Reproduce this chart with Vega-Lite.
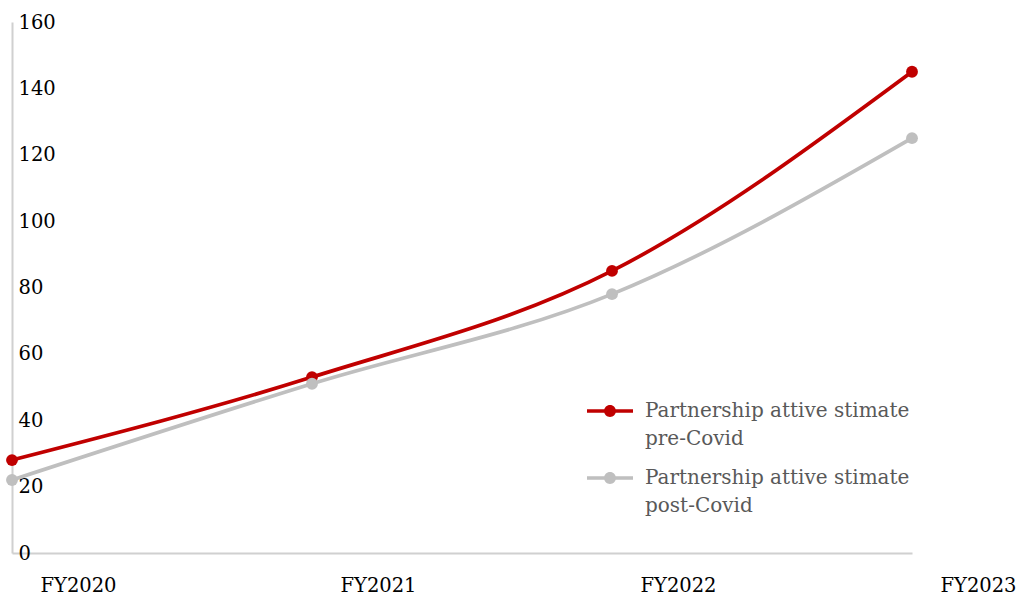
{
  "$schema": "https://vega.github.io/schema/vega-lite/v6.json",
  "width": 900,
  "height": 531,
  "autosize": "none",
  "padding": {"left": 12, "top": 22, "right": 107, "bottom": 43},
  "background": "white",
  "config": {"view": {"stroke": null}, "font": "DejaVu Serif"},
  "data": {"values": [
    {"year": "FY2020", "series": "Partnership attive stimate pre-Covid", "value": 28},
    {"year": "FY2021", "series": "Partnership attive stimate pre-Covid", "value": 53},
    {"year": "FY2022", "series": "Partnership attive stimate pre-Covid", "value": 85},
    {"year": "FY2023", "series": "Partnership attive stimate pre-Covid", "value": 145},
    {"year": "FY2020", "series": "Partnership attive stimate post-Covid", "value": 22},
    {"year": "FY2021", "series": "Partnership attive stimate post-Covid", "value": 51},
    {"year": "FY2022", "series": "Partnership attive stimate post-Covid", "value": 78},
    {"year": "FY2023", "series": "Partnership attive stimate post-Covid", "value": 125}
  ]},
  "encoding": {
    "x": {"field": "year", "type": "ordinal", "scale": {"type": "point", "padding": 0},
      "axis": {"title": null, "labelAngle": 0, "ticks": false, "grid": false, "domainColor": "#D0D0D0", "domainWidth": 2,
        "labelFont": "DejaVu Serif", "labelFontSize": 19.5, "labelColor": "#000000", "labelOffset": 66, "labelPadding": 23, "labelBaseline": "top"}},
    "y": {"field": "value", "type": "quantitative", "scale": {"domain": [0, 160], "nice": false},
      "axis": {"title": null, "values": [0, 20, 40, 60, 80, 100, 120, 140, 160], "ticks": false, "grid": false, "domainColor": "#D0D0D0", "domainWidth": 2,
        "labelFont": "DejaVu Serif", "labelFontSize": 19.5, "labelColor": "#000000", "labelAlign": "left", "labelPadding": -6, "labelBaseline": "middle"}},
    "color": {"field": "series", "type": "nominal",
      "scale": {"domain": ["Partnership attive stimate pre-Covid", "Partnership attive stimate post-Covid"], "range": ["#C00000", "#BFBFBF"]},
      "legend": {"title": null, "orient": "none", "legendX": 575, "legendY": 366,
        "labelExpr": "[slice(datum.label, 0, 26), slice(datum.label, 27)]",
        "labelFont": "DejaVu Serif", "labelFontSize": 20, "labelColor": "#595959", "labelLimit": 400, "labelOffset": 12,
        "symbolType": "M -1 -0.075 L 1 -0.075 L 1 0.075 L -1 0.075 Z M 0.26 0 A 0.26 0.26 0 1 1 -0.26 0 A 0.26 0.26 0 1 1 0.26 0 Z",
        "symbolSize": 2116, "symbolStrokeWidth": 0, "rowPadding": 6,
        "encode": {
          "symbols": {"update": {"fill": {"signal": "scale('color', datum.value)"}, "fillOpacity": {"value": 1}, "strokeWidth": {"value": 0}}},
          "labels": {"update": {"lineHeight": {"value": 28}}}
        }}
    }
  },
  "layer": [
    {"mark": {"type": "line", "interpolate": "monotone", "strokeWidth": 3.7}},
    {"mark": {"type": "point", "filled": true, "size": 140, "opacity": 1}}
  ]
}
